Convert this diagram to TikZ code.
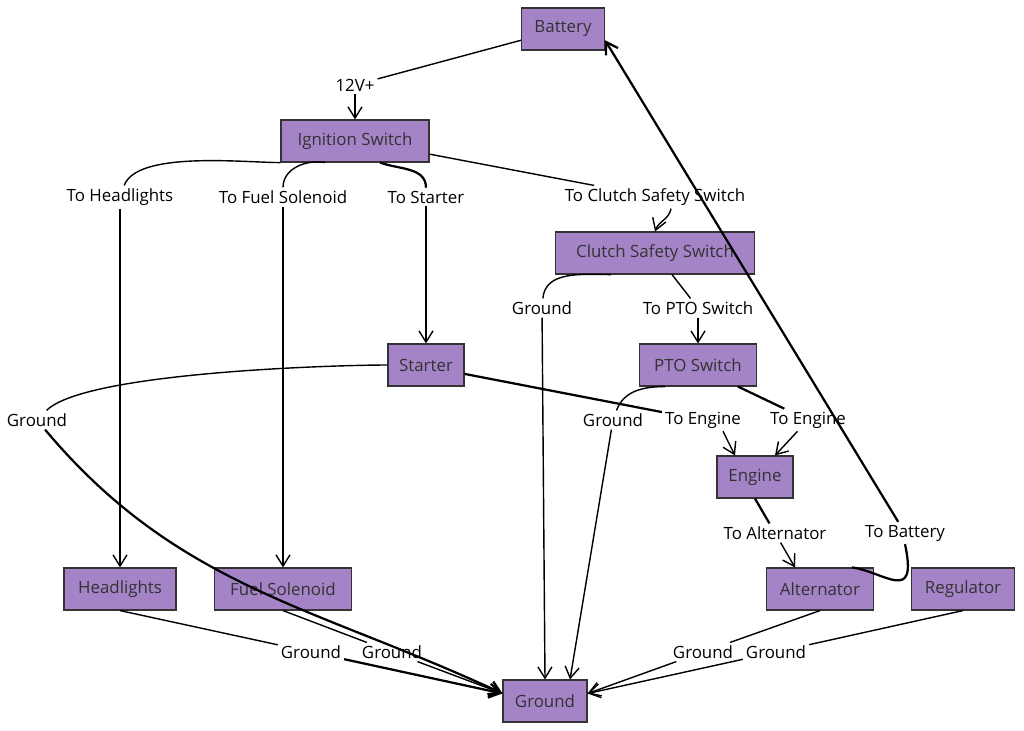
\documentclass[tikz,border=0pt]{standalone}
\usepackage{fontspec}
\setmainfont{Open Sans}
\usetikzlibrary{arrows.meta}
\definecolor{partfill}{RGB}{164,131,199}
\definecolor{partline}{RGB}{51,51,51}

\begin{document}
\begin{tikzpicture}[x=0.025cm,y=-0.025cm,
	part/.style={rectangle, draw=partline, fill=partfill, thick, minimum height=1.05cm, inner sep=0pt, text=partline, font=\fontsize{12}{14}\selectfont},
	lbl/.style={inner sep=2pt, font=\fontsize{12}{14}\selectfont},
	wire/.style={black, line width=1pt},
	heavy/.style={line width=1.6pt},
	tip/.style={-{Straight Barb[length=8pt,width=10pt]}}]
	\useasboundingbox (0,0) rectangle (1024,730);

	\node[part, minimum width=2.075cm] at (563,29) (bat) {Battery};
	\node[part, minimum width=3.7cm] at (355,141) (ign) {Ignition Switch};
	\node[part, minimum width=4.975cm] at (655,253) (clutch) {Clutch Safety Switch};
	\node[part, minimum width=1.9cm] at (426,365) (start) {Starter};
	\node[part, minimum width=2.925cm] at (698,365) (pto) {PTO Switch};
	\node[part, minimum width=1.9cm] at (755,477) (eng) {Engine};
	\node[part, minimum width=2.8cm] at (120,589) (head) {Headlights};
	\node[part, minimum width=3.425cm] at (283,589) (fuel) {Fuel Solenoid};
	\node[part, minimum width=2.675cm] at (820,589) (alt) {Alternator};
	\node[part, minimum width=2.575cm] at (963,589) (reg) {Regulator};
	\node[part, minimum width=2.1cm] at (545,701) (gnd) {Ground};

	\node[lbl] at (355,85) (l12) {12V+};
	\node[lbl] at (120,197) (lhead) {To Headlights};
	\node[lbl] at (283,197) (lfuel) {To Fuel Solenoid};
	\node[lbl] at (426,197) (lstart) {To Starter};
	\node[lbl] at (655,197) (lclutch) {To Clutch Safety Switch};
	\node[lbl] at (542,308) (lgc) {Ground};
	\node[lbl] at (698,308) (lpto) {To PTO Switch};
	\node[lbl] at (37,420) (lgs) {Ground};
	\node[lbl] at (613,420) (lgp) {Ground};
	\node[lbl] at (703,420) (leng1) {To Engine};
	\node[lbl] at (808,420) (leng2) {To Engine};
	\node[lbl] at (775,533) (lalt) {To Alternator};
	\node[lbl] at (905,533) (lbat) {To Battery};
	\node[lbl] at (311,652) (lgh) {Ground};
	\node[lbl] at (392,652) (lgf) {Ground};
	\node[lbl] at (703,652) (lga) {Ground};
	\node[lbl] at (776,652) (lgr) {Ground};

	\draw[wire] (bat.195) -- (l12);
	\draw[wire,tip] (l12) -- (ign.north);

	\draw[wire] (ign.south west) to[out=180,in=70,looseness=0.6] (lhead);
	\draw[wire,tip] (lhead) -- (head.north);
	\draw[wire] ([xshift=-0.75cm]ign.south) to[out=170,in=90] (lfuel);
	\draw[wire,tip] (lfuel) -- (fuel.north);
	\draw[wire,heavy] ([xshift=0.625cm]ign.south) to[out=-20,in=90] (lstart);
	\draw[wire,tip] (lstart) -- (start.north);
	\draw[wire] (ign.-10) -- (lclutch);
	\draw[wire,tip] ([xshift=0.4cm]lclutch.south) to[out=-100,in=70] (clutch.north);

	\draw[wire] ([xshift=-1.1cm]clutch.south) to[out=180,in=85] (lgc);
	\draw[wire,tip] (lgc) -- (gnd.north);
	\draw[wire] ([xshift=0.425cm]clutch.south) -- (lpto);
	\draw[wire,tip] (lpto) -- (pto.north);

	\draw[wire] (start.west) to[out=180,in=45,looseness=0.4] (lgs);
	\draw[wire,heavy,tip] (lgs) to[out=-50,in=155] (gnd.170);
	\draw[wire,heavy] (start.-13) -- (leng1);
	\draw[wire,tip] ([xshift=0.5cm]leng1.south) -- ([xshift=-0.5cm]eng.north);

	\draw[wire] ([xshift=-0.825cm]pto.south) to[out=180,in=70] (lgp);
	\draw[wire,tip] (lgp) -- ([xshift=0.625cm]gnd.north);
	\draw[wire,heavy] ([xshift=1cm]pto.south) -- (leng2);
	\draw[wire,tip] (leng2) -- ([xshift=0.5cm]eng.north);

	\draw[wire,heavy] (eng.south) -- (lalt);
	\draw[wire,tip] (lalt) -- ([xshift=-0.625cm]alt.north);
	\draw[wire,heavy] ([xshift=0.8cm]alt.north) .. controls (885,572) and (918,605) .. (lbat.south);
	\draw[wire,heavy,tip] (lbat) -- (bat.-15);

	\draw[wire] (head.south) -- (lgh);
	\draw[wire,heavy,tip] (lgh) -- (gnd.170);
	\draw[wire] (fuel.south) -- (lgf);
	\draw[wire,tip] (lgf) -- (gnd.170);
	\draw[wire] (alt.south) -- (lga);
	\draw[wire,tip] (lga) -- (gnd.10);
	\draw[wire] (reg.south) -- (lgr);
	\draw[wire,tip] (lgr) -- (gnd.10);
\end{tikzpicture}
\end{document}
